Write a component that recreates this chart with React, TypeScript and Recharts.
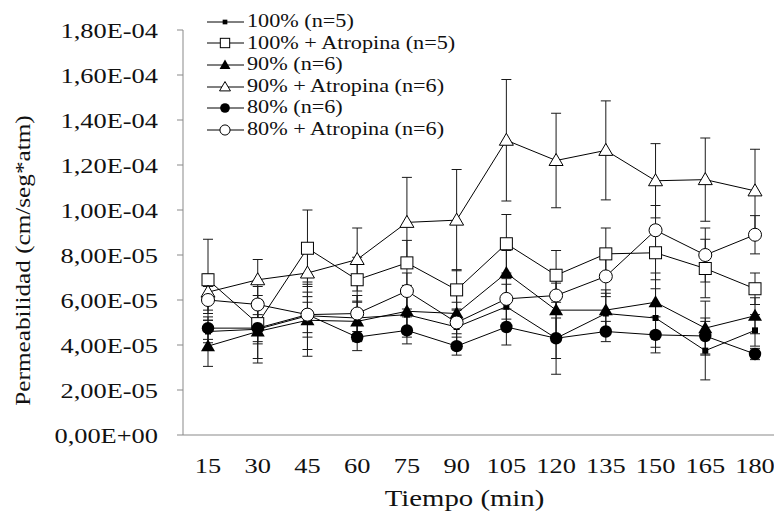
import React from 'react';
import { LineChart, Line, XAxis, YAxis, ErrorBar, Legend } from 'recharts';

// Tiempo (min)
const minutes = [15, 30, 45, 60, 75, 90, 105, 120, 135, 150, 165, 180];

// Permeabilidad in units of 1E-05 cm/seg*atm
const p100 = [4.6, 4.7, 5.3, 5.2, 5.35, 4.8, 5.7, 4.3, 5.4, 5.2, 3.75, 4.65];
const p100Err = [0.5, 1.5, 1.5, 1.0, 1.0, 0.8, 1.0, 1.6, 0.9, 1.3, 1.3, 0.7];
const p100Atr = [6.9, 4.95, 8.3, 6.9, 7.65, 6.45, 8.5, 7.1, 8.05, 8.1, 7.4, 6.5];
const p100AtrErr = [1.8, 0.9, 1.7, 1.0, 1.0, 0.9, 1.3, 1.1, 1.15, 1.2, 1.3, 0.7];
const p90 = [3.95, 4.6, 5.1, 5.05, 5.5, 5.4, 7.2, 5.55, 5.55, 5.9, 4.75, 5.3];
const p90Err = [0.9, 1.2, 1.6, 0.9, 1.0, 0.9, 1.0, 1.2, 0.9, 1.3, 1.2, 0.8];
const p90Atr = [6.35, 6.9, 7.2, 7.8, 9.45, 9.55, 13.1, 12.2, 12.65, 11.3, 11.35, 10.85];
const p90AtrErr = [0.8, 0.9, 1.3, 1.4, 2.0, 2.25, 2.7, 2.1, 2.2, 1.65, 1.85, 1.85];
const p80 = [4.75, 4.75, 5.35, 4.35, 4.65, 3.95, 4.8, 4.3, 4.6, 4.45, 4.4, 3.6];
const p80Err = [0.5, 0.6, 0.8, 0.6, 0.6, 0.4, 0.8, 0.9, 0.45, 0.8, 0.8, 0.25];
const p80Atr = [6.0, 5.8, 5.35, 5.4, 6.4, 5.0, 6.05, 6.2, 7.05, 9.1, 8.0, 8.9];
const p80AtrErr = [0.6, 0.8, 1.0, 0.8, 0.8, 0.9, 0.9, 0.8, 0.9, 1.1, 1.2, 0.85];

const yTicks = [0, 2, 4, 6, 8, 10, 12, 14, 16, 18];
const SCALE = 1e-5;

type Shape = 'smallSquare' | 'openSquare' | 'triangle' | 'openTriangle' | 'circle' | 'openCircle';

const seriesList: { key: string; name: string; values: number[]; errors: number[]; shape: Shape }[] = [
  { key: 's100', name: '100% (n=5)', values: p100, errors: p100Err, shape: 'smallSquare' },
  { key: 's100a', name: '100% + Atropina (n=5)', values: p100Atr, errors: p100AtrErr, shape: 'openSquare' },
  { key: 's90', name: '90% (n=6)', values: p90, errors: p90Err, shape: 'triangle' },
  { key: 's90a', name: '90% + Atropina (n=6)', values: p90Atr, errors: p90AtrErr, shape: 'openTriangle' },
  { key: 's80', name: '80% (n=6)', values: p80, errors: p80Err, shape: 'circle' },
  { key: 's80a', name: '80% + Atropina (n=6)', values: p80Atr, errors: p80AtrErr, shape: 'openCircle' },
];

const data = minutes.map((m, i) => {
  const row: Record<string, number | string> = { t: String(m) };
  seriesList.forEach((s) => {
    row[s.key] = s.values[i] * SCALE;
    row[s.key + 'Err'] = s.errors[i] * SCALE;
  });
  return row;
});

const FONT = 'Liberation Serif';
const INK = '#111';
const AXIS = '#898989';
const WIDEN = 1.2; // the original face (Garamond) is wider than Liberation Serif

// 1.8e-4 -> "1,80E-04"
const fmtSci = (v: number) => {
  const [mant, exp] = v.toExponential(2).split('e');
  const n = parseInt(exp, 10);
  const sign = n < 0 ? '-' : '+';
  return `${mant.replace('.', ',')}E${sign}${String(Math.abs(n)).padStart(2, '0')}`;
};

const Marker = ({ shape, cx, cy, k = 1 }: { shape: Shape; cx: number; cy: number; k?: number }) => {
  switch (shape) {
    case 'smallSquare':
      return <rect x={cx - 3 * k} y={cy - 3 * k} width={6 * k} height={6 * k} fill="#000" />;
    case 'openSquare':
      return <rect x={cx - 6 * k} y={cy - 6 * k} width={12 * k} height={12 * k} fill="#fff" stroke="#000" strokeWidth={1} />;
    case 'triangle':
      return <polygon points={`${cx},${cy - 7 * k} ${cx + 7 * k},${cy + 5 * k} ${cx - 7 * k},${cy + 5 * k}`} fill="#000" />;
    case 'openTriangle':
      return (
        <polygon
          points={`${cx},${cy - 7 * k} ${cx + 7 * k},${cy + 5 * k} ${cx - 7 * k},${cy + 5 * k}`}
          fill="#fff"
          stroke="#000"
          strokeWidth={1}
        />
      );
    case 'circle':
      return <circle cx={cx} cy={cy} r={6.2 * k} fill="#000" />;
    default:
      return <circle cx={cx} cy={cy} r={6.5 * k} fill="#fff" stroke="#000" strokeWidth={1} />;
  }
};

// text drawn at (x, y), stretched horizontally
const WideText = ({ x, y, anchor, size, rotate = 0, children }: any) => (
  <text
    transform={`translate(${x} ${y}) rotate(${rotate}) scale(${WIDEN} 1)`}
    x={0}
    y={0}
    textAnchor={anchor}
    fill={INK}
    fontFamily={FONT}
    fontSize={size}
  >
    {children}
  </text>
);

const XTick = ({ x, y, payload }: any) => (
  <WideText x={x} y={y + 38} anchor="middle" size={22}>
    {payload.value}
  </WideText>
);

const YTick = ({ x, y, payload }: any) => (
  <WideText x={x} y={y + 7.5} anchor="end" size={22}>
    {fmtSci(payload.value)}
  </WideText>
);

const YTitle = ({ viewBox }: any) => (
  <WideText x={viewBox.x + 30} y={viewBox.y + viewBox.height / 2 + 28} anchor="middle" size={21} rotate={-90}>
    Permeabilidad (cm/seg*atm)
  </WideText>
);

const XTitle = ({ viewBox }: any) => (
  <WideText x={viewBox.x + viewBox.width / 2 - 17} y={viewBox.y + 71} anchor="middle" size={24}>
    Tiempo (min)
  </WideText>
);

const LegendBox = () => (
  <div style={{ fontFamily: FONT, fontSize: 18.5, color: INK }}>
    {seriesList.map((s) => (
      <div key={s.key} style={{ display: 'flex', alignItems: 'center', height: 21.6, whiteSpace: 'nowrap' }}>
        <svg width={40} height={20} style={{ flex: 'none' }}>
          <line x1={1} y1={10} x2={38} y2={10} stroke="#000" strokeWidth={1} />
          <Marker shape={s.shape} cx={19} cy={10} k={0.78} />
        </svg>
        <span
          style={{
            display: 'inline-block',
            marginLeft: 1,
            lineHeight: '21.6px',
            transform: `scaleX(${WIDEN})`,
            transformOrigin: 'left center',
          }}
        >
          {s.name}
        </span>
      </div>
    ))}
  </div>
);

export default function App() {
  return (
    <div style={{ position: 'absolute', left: 0, top: 0, width: 774, height: 514, overflow: 'hidden', background: '#fff' }}>
      <LineChart width={780} height={514} data={data} margin={{ top: 30, right: 0, bottom: 19, left: 0 }}>
        <XAxis
          dataKey="t"
          height={60}
          padding={{ left: 25, right: 25 }}
          axisLine={{ stroke: AXIS }}
          tickLine={false}
          tickSize={0}
          tickMargin={0}
          tick={<XTick />}
          interval={0}
          label={<XTitle />}
        />
        <YAxis
          width={183}
          domain={[0, yTicks[yTicks.length - 1] * SCALE]}
          ticks={yTicks.map((t) => t * SCALE)}
          interval={0}
          axisLine={{ stroke: AXIS }}
          tickLine={{ stroke: AXIS }}
          tickSize={6}
          tickMargin={19}
          tick={<YTick />}
          label={<YTitle />}
        />
        <Legend
          layout="vertical"
          align="center"
          verticalAlign="middle"
          wrapperStyle={{ top: 11, left: 206, width: 'auto', height: 'auto' }}
          content={<LegendBox />}
        />
        {seriesList.map((s) => (
          <Line
            key={s.key}
            dataKey={s.key}
            name={s.name}
            type="linear"
            stroke="#000"
            strokeWidth={1}
            isAnimationActive={false}
            activeDot={false}
            dot={(p: any) => <Marker key={`${s.key}-${p.index}`} shape={s.shape} cx={p.cx} cy={p.cy} />}
          >
            <ErrorBar dataKey={s.key + 'Err'} width={5} stroke="#1a1a1a" strokeWidth={1} isAnimationActive={false} />
          </Line>
        ))}
      </LineChart>
    </div>
  );
}
